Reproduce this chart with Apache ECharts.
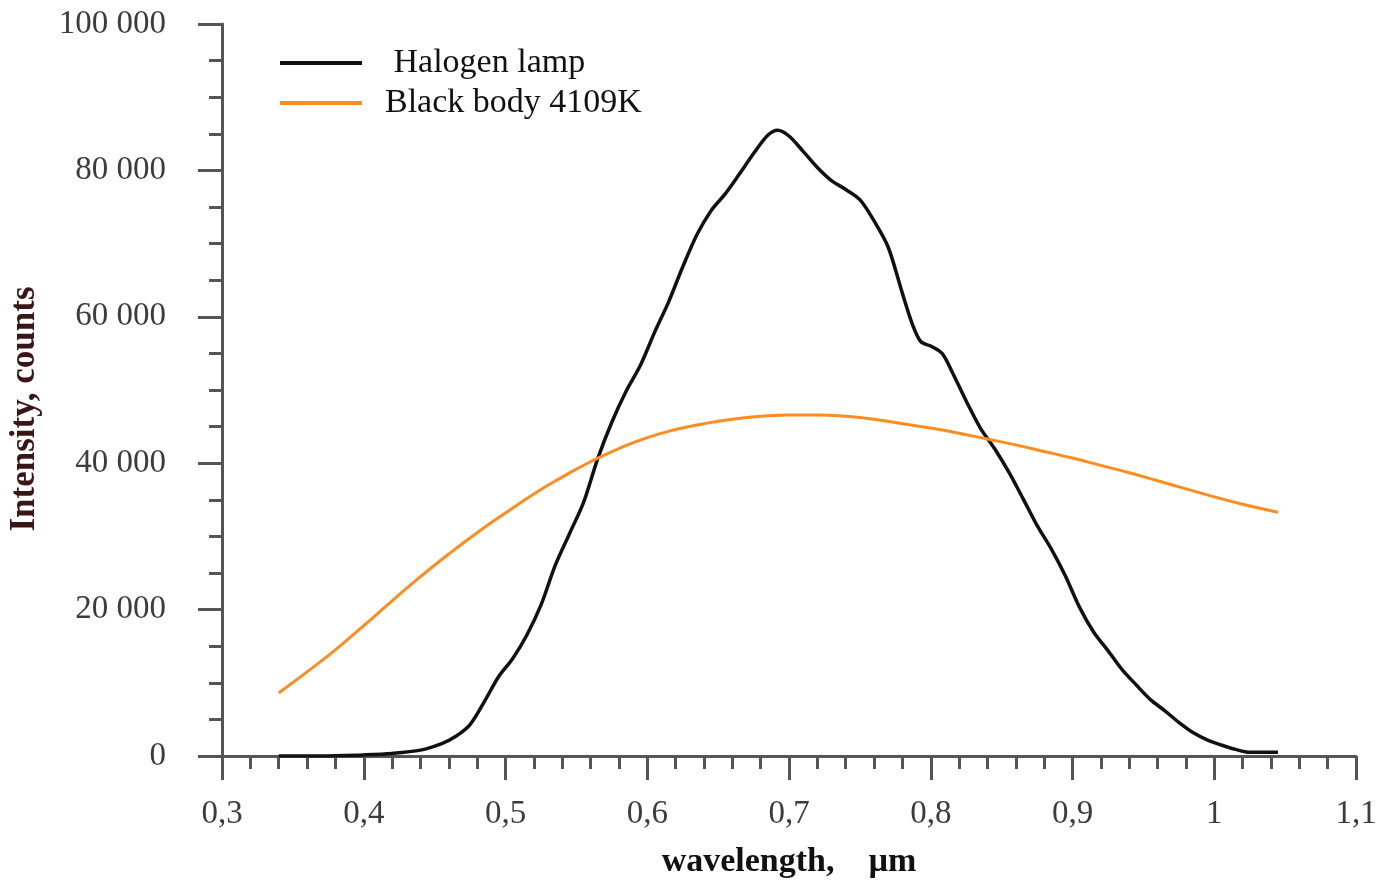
<!DOCTYPE html>
<html>
<head>
<meta charset="utf-8">
<script src="https://cdn.jsdelivr.net/npm/echarts@6/dist/echarts.min.js"></script>
<style>
html,body{margin:0;padding:0;background:#fff;}
#chart{width:1376px;height:882px;}
</style>
</head>
<body>
<div id="chart"></div>
<script>
// Halogen lamp spectrum (wavelength µm, counts)
const halogenX = [0.34,0.36,0.38,0.40,0.42,0.44,0.455,0.465,0.475,0.485,0.495,0.505,0.515,0.525,0.535,0.545,0.555,0.565,0.575,0.585,0.595,0.605,0.615,0.625,0.635,0.645,0.655,0.665,0.675,0.685,0.692,0.700,0.710,0.720,0.730,0.740,0.750,0.760,0.770,0.780,0.787,0.793,0.800,0.808,0.815,0.825,0.835,0.845,0.855,0.865,0.875,0.885,0.895,0.905,0.915,0.925,0.935,0.945,0.955,0.965,0.975,0.985,0.995,1.005,1.015,1.025,1.045];
const halogenY = [0,0,50,150,350,800,1700,2700,4300,7400,10800,13300,16500,20600,26000,30300,34600,40600,45600,49800,53300,57800,62000,66800,71200,74500,76800,79500,82300,84800,85500,84700,82600,80400,78600,77400,76000,73100,69500,63200,59000,56600,56000,55000,52500,48500,44800,42000,38800,35200,31500,28300,24600,20300,16900,14400,11800,9700,7700,6200,4600,3200,2200,1500,900,500,500];

// Black body 4109K curve
const bbX = [0.34,0.36,0.38,0.40,0.42,0.44,0.46,0.48,0.50,0.52,0.54,0.56,0.58,0.60,0.62,0.64,0.66,0.68,0.70,0.72,0.74,0.76,0.78,0.80,0.82,0.84,0.86,0.88,0.90,0.92,0.94,0.96,0.98,1.00,1.02,1.045];
const bbY = [8600,11500,14500,17800,21200,24500,27600,30500,33200,35800,38100,40200,42000,43500,44600,45400,46000,46400,46600,46600,46400,46000,45400,44800,44100,43300,42500,41600,40700,39700,38700,37600,36500,35400,34400,33300];

const seriesNames = [' Halogen lamp', 'Black body 4109K'];
const xAxisName = 'wavelength,    µm';
const yAxisName = 'Intensity, counts';

const zip = (xs, ys) => xs.map((x, i) => [x, ys[i]]);

const chart = echarts.init(document.getElementById('chart'), null, {renderer: 'canvas'});
const axisColor = '#555555';
const labelColor = '#3c3c3c';
const serif = '"Liberation Serif", "DejaVu Serif", serif';

chart.setOption({
  animation: false,
  backgroundColor: '#ffffff',
  grid: {left: 222, right: 20, top: 24, bottom: 126, containLabel: false, outerBoundsMode: 'none'},
  legend: {
    orient: 'vertical',
    left: 280,
    top: 42,
    padding: 0,
    itemWidth: 82,
    itemHeight: 4,
    itemGap: -2,
    icon: 'rect',
    data: seriesNames,
    textStyle: {fontFamily: serif, fontSize: 34, color: '#111', lineHeight: 34, padding: [8, 0, 0, 18]}
  },
  xAxis: {
    type: 'value',
    min: 0.3, max: 1.1, interval: 0.1,
    name: xAxisName,
    nameLocation: 'middle',
    nameGap: 89,
    nameTextStyle: {fontFamily: serif, fontSize: 34, fontWeight: 'bold', color: '#111'},
    axisLine: {show: true, onZero: false, lineStyle: {color: axisColor, width: 3}},
    axisTick: {show: true, length: 24, lineStyle: {color: axisColor, width: 3}},
    minorTick: {show: true, splitNumber: 5, length: 13, lineStyle: {color: axisColor, width: 3}},
    splitLine: {show: false},
    axisLabel: {
      margin: 42, fontFamily: serif, fontSize: 33, color: labelColor,
      formatter: v => String(Math.round(v * 10) / 10).replace('.', ',')
    }
  },
  yAxis: {
    type: 'value',
    min: 0, max: 100000, interval: 20000,
    name: yAxisName,
    nameLocation: 'middle',
    nameGap: 180,
    nameRotate: 90,
    nameTextStyle: {fontFamily: serif, fontSize: 35, fontWeight: 'bold', color: '#3a1616', padding: [0, 38, 0, 0]},
    axisLine: {show: true, lineStyle: {color: axisColor, width: 3}},
    axisTick: {show: true, length: 24, lineStyle: {color: axisColor, width: 3}},
    minorTick: {show: true, splitNumber: 4, length: 13, lineStyle: {color: axisColor, width: 3}},
    splitLine: {show: false},
    axisLabel: {
      margin: 56, fontFamily: serif, fontSize: 33, color: labelColor,
      formatter: v => String(v).replace(/\B(?=(\d{3})+(?!\d))/g, ' ')
    }
  },
  series: [
    {
      name: seriesNames[0], type: 'line', data: zip(halogenX, halogenY),
      showSymbol: false, symbol: 'none', smooth: 0.3,
      lineStyle: {color: '#111111', width: 3.5}, itemStyle: {color: '#111111'}
    },
    {
      name: seriesNames[1], type: 'line', data: zip(bbX, bbY),
      showSymbol: false, symbol: 'none', smooth: 0.5,
      lineStyle: {color: '#ff8c1e', width: 3}, itemStyle: {color: '#ff8c1e'}
    }
  ]
});
</script>
</body>
</html>
